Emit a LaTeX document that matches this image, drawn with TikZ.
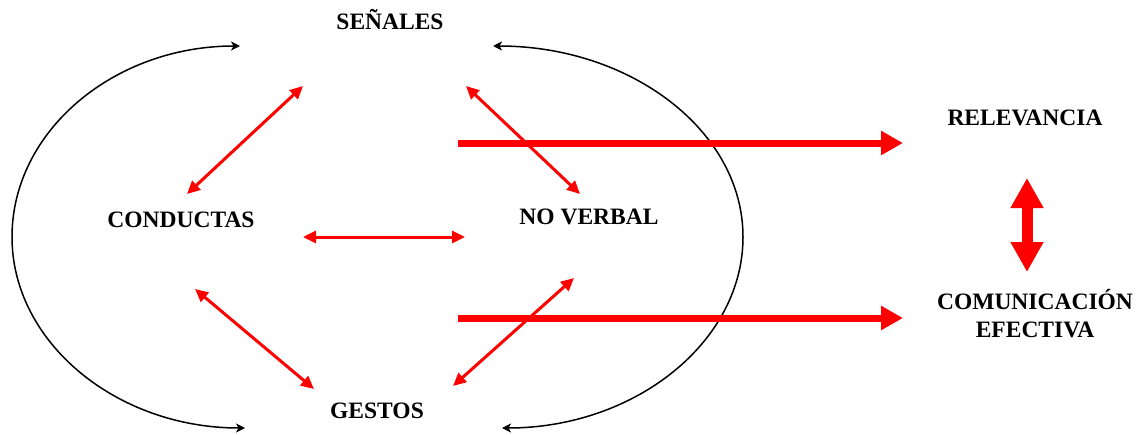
\documentclass[tikz,border=0pt]{standalone}
\usepackage{fontspec}
\setmainfont{Liberation Serif}
\usetikzlibrary{arrows.meta}

\begin{document}
\begin{tikzpicture}[x=1pt, y=-1pt,
    etiqueta/.style={font=\fontsize{23.5}{28}\selectfont\bfseries, align=center, inner sep=0pt},
    ciclo/.style={line width=1.5pt, {Stealth[length=9pt,width=9pt,inset=2.5pt]}-{Stealth[length=9pt,width=9pt,inset=2.5pt]}},
    relacion/.style={red, line width=3pt, {Triangle[length=13pt,width=12pt]}-{Triangle[length=13pt,width=12pt]}},
    salida/.style={red, line width=7pt, -{Triangle[length=22pt,width=23pt]}},
    enlace/.style={red, line width=11pt, {Triangle[length=30pt,width=31pt]}-{Triangle[length=30pt,width=31pt]}}]
  \useasboundingbox (0,0) rectangle (1138,434);

  % Conceptos
  \node[etiqueta] (senales) at (390,20) {SEÑALES};
  \node[etiqueta] (conductas) at (181,220) {CONDUCTAS};
  \node[etiqueta] (noverbal) at (589,217) {NO VERBAL};
  \node[etiqueta] (gestos) at (377,411) {GESTOS};
  \node[etiqueta] (relevancia) at (1025,118) {RELEVANCIA};
  \node[etiqueta] (comunicacion) at (1035,314) {COMUNICACIÓN\\EFECTIVA};

  % Extremos de las flechas
  \coordinate (ci-arriba) at (240,46);
  \coordinate (ci-izq) at (12,237);
  \coordinate (ci-abajo) at (245,428);
  \coordinate (cd-arriba) at (493,46);
  \coordinate (cd-der) at (743,237);
  \coordinate (cd-abajo) at (502,428);
  \coordinate (s-izq) at (303,86);
  \coordinate (s-der) at (466,86);
  \coordinate (c-arriba) at (187,194);
  \coordinate (c-der) at (303,237);
  \coordinate (c-abajo) at (195,289);
  \coordinate (nv-arriba) at (580,194);
  \coordinate (nv-izq) at (465,237);
  \coordinate (nv-abajo) at (574,278);
  \coordinate (g-izq) at (314,389);
  \coordinate (g-der) at (453,386);
  \coordinate (sal-1) at (458,143);
  \coordinate (sal-2) at (458,318);
  \coordinate (r-abajo) at (903,143);
  \coordinate (ce-izq) at (903,318);
  \coordinate (r-enlace) at (1027,178);
  \coordinate (ce-enlace) at (1027,272);

  % Ciclos
  \draw[ciclo] (ci-arriba) .. controls (114,46) and (12,131) .. (ci-izq)
                           .. controls (12,342) and (116,428) .. (ci-abajo);
  \draw[ciclo] (cd-arriba) .. controls (631,46) and (743,131) .. (cd-der)
                           .. controls (743,342) and (635,428) .. (cd-abajo);

  % Relaciones
  \draw[relacion] (c-arriba) -- (s-izq);
  \draw[relacion] (s-der) -- (nv-arriba);
  \draw[relacion] (c-der) -- (nv-izq);
  \draw[relacion] (c-abajo) -- (g-izq);
  \draw[relacion] (g-der) -- (nv-abajo);

  % Salidas
  \draw[salida] (sal-1) -- (r-abajo);
  \draw[salida] (sal-2) -- (ce-izq);
  \draw[enlace] (r-enlace) -- (ce-enlace);
\end{tikzpicture}
\end{document}
